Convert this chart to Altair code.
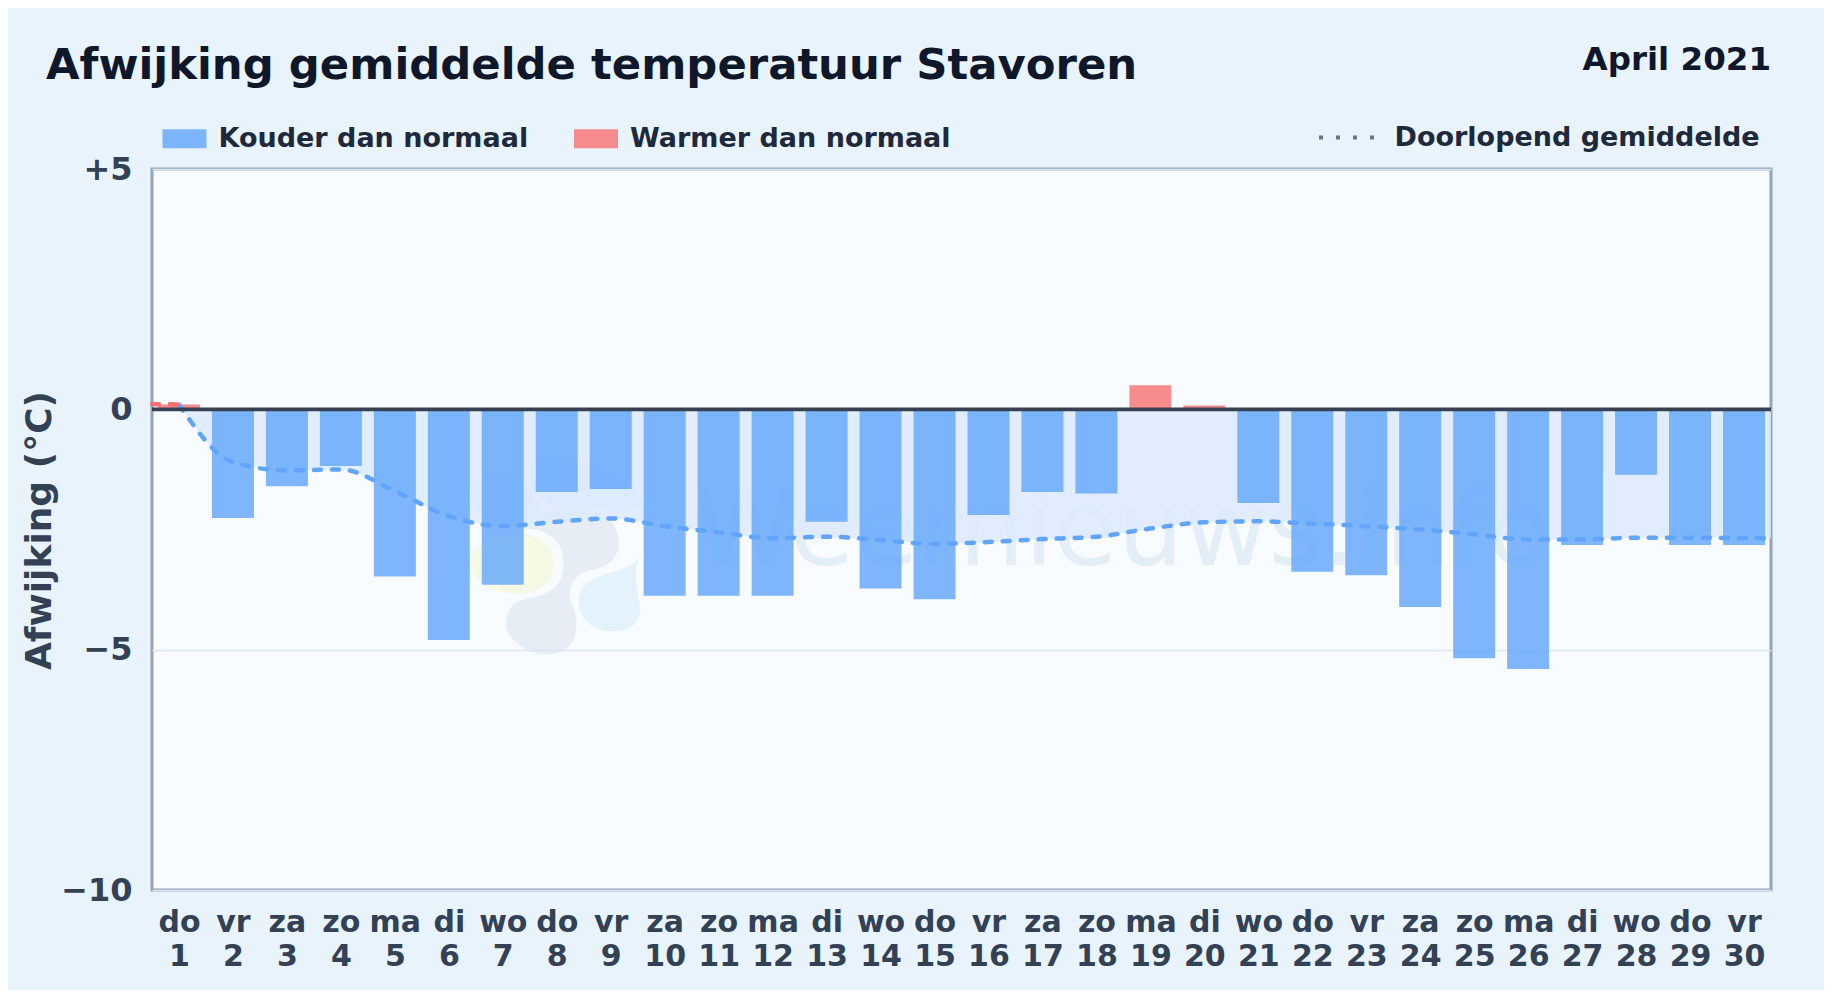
import altair as alt
import pandas as pd

days = list(range(1, 31))
weekdays = ["do","vr","za","zo","ma","di","wo","do","vr","za","zo","ma","di","wo","do","vr","za","zo","ma","di","wo","do","vr","za","zo","ma","di","wo","do","vr"]
values = [0.1,-2.26,-1.6,-1.18,-3.48,-4.8,-3.65,-1.72,-1.66,-3.88,-3.88,-3.88,-2.34,-3.73,-3.95,-2.2,-1.72,-1.75,0.5,0.08,-1.95,-3.38,-3.45,-4.11,-5.18,-5.4,-2.82,-1.36,-2.82,-2.82]
trend_x = [1,2,3,4,5,6,7,8,9,10,11,12,13,14,15,16,17,18,19,20,21,22,23,24,25,26,27,28,29,30,30.5]
trend_y = [0.1,-1.1,-1.27,-1.25,-1.7,-2.22,-2.43,-2.34,-2.27,-2.43,-2.56,-2.68,-2.65,-2.72,-2.8,-2.76,-2.7,-2.65,-2.48,-2.35,-2.33,-2.38,-2.43,-2.5,-2.6,-2.71,-2.71,-2.67,-2.67,-2.68,-2.68]
warm_x = [0.5, 1]
warm_y = [0.11, 0.1]
COLD = "Kouder dan normaal"
WARM = "Warmer dan normaal"
TREND = "Doorlopend gemiddelde"
FONT = "DejaVu Sans"

bars = pd.DataFrame({"day": days, "v": values, "kind": [WARM if v > 0 else COLD for v in values]})
trend = pd.DataFrame({"day": trend_x, "v": trend_y, "s": TREND})
warm = pd.DataFrame({"day": warm_x, "v": warm_y})
one = pd.DataFrame({"a": [0]})

x = alt.X("day:Q", scale=alt.Scale(domain=[0.5, 30.5], nice=False, zero=False, padding=0),
          axis=alt.Axis(values=days, title=None, grid=False, domain=False, ticks=False, labelPadding=17,
                        labelFontSize=30, labelFontWeight="bold", labelColor="#334155", labelFont=FONT,
                        labelLineHeight=34, labelOverlap=False, labelFlush=False,
                        labelExpr="[split('" + " ".join(weekdays) + "',' ')[datum.value-1], datum.value+'']"))
y = alt.Y("v:Q", scale=alt.Scale(domain=[-10, 5], nice=False, zero=False, padding=0),
          axis=alt.Axis(values=[5, 0, -5, -10], title="Afwijking (°C)", grid=True, gridColor="#dbe7ee", gridWidth=1.5,
                        domain=False, ticks=False, labelPadding=20, labelFontSize=32, labelFontWeight="bold",
                        labelColor="#334155", labelFont=FONT,
                        labelExpr="datum.value > 0 ? '+' + datum.value : datum.label",
                        titleFont=FONT, titleFontSize=36, titleFontWeight="bold", titleColor="#334155",
                        titleX=-113, titleY=361, titleAngle=270, titleAlign="center", titleBaseline="middle"))

def blob(path, px, py, color, opacity):
    return alt.Chart(one).mark_point(shape=path, size=45511, filled=True, color=color, opacity=opacity, strokeWidth=0).encode(
        x=alt.value(px), y=alt.value(py))

def pts(seq):
    # seq is written in crop pixels around the logo centre (320,320), one path unit = 320 crop pixels
    out = []
    for tok in seq.split():
        if tok[0].isalpha():
            out.append(tok)
        else:
            a, b = tok.split(",")
            out.append(f"{(float(a)-320)/320:.3f},{(float(b)-320)/320:.3f}")
    return " ".join(out)

GRAY = pts("M 90,130 C 150,95 230,95 265,140 C 285,190 300,205 330,210 C 400,215 450,205 490,225 C 520,240 535,275 535,310 C 535,360 490,385 450,390 C 400,400 385,440 390,480 C 415,530 420,600 370,630 C 310,665 200,620 197,550 C 197,500 230,480 260,475 C 340,460 370,430 370,370 C 370,300 320,265 260,265 C 170,265 90,250 90,130 Z")
BLUE = pts("M 415,480 C 420,420 480,405 520,395 C 560,385 580,370 600,350 C 575,380 590,450 600,500 C 600,550 570,573 510,573 C 450,570 415,530 415,480 Z")
TOP = pts("M 270,60 C 350,40 450,60 500,100 C 560,120 610,150 610,200 C 560,215 480,200 420,205 C 350,210 300,190 270,130 Z")
SUN = pts("M 340,370 C 340,430 290,460 230,460 C 170,460 90,430 90,370 C 90,310 170,280 230,280 C 290,280 340,310 340,370 Z")

logo = [blob(SUN, 395, 378, "#f4f8d8", 0.7), blob(TOP, 395, 378, "#bfe0fb", 0.45),
        blob(GRAY, 395, 378, "#d8e2ec", 0.55), blob(BLUE, 395, 378, "#d3ebfd", 0.55)]
mark = alt.Chart(pd.DataFrame({"t": ["Weernieuws.info"]})).mark_text(font=FONT, fontSize=104, color="#7aa8cc", opacity=0.15, align="center", baseline="alphabetic", clip=False).encode(text="t:N", x=alt.value(970), y=alt.value(396))

area = alt.Chart(trend).mark_area(color="#dbeafe", opacity=0.8, interpolate="monotone").encode(x=x, y=y, y2=alt.datum(0))
bar = alt.Chart(bars).mark_bar(size=42, opacity=0.8).encode(
    x=x, y=y, y2=alt.datum(0),
    color=alt.Color("kind:N", scale=alt.Scale(domain=[COLD, WARM], range=["#60a5fa", "#f87171"]),
                    legend=alt.Legend(title=None, orient="none", legendX=19, legendY=-44, direction="horizontal",
                                      columns=2, columnPadding=44.5, symbolType="M-2,-0.86H2V0.86H-2Z", symbolSize=484,
                                      symbolOpacity=0.8, labelFont=FONT, labelFontSize=27, labelFontWeight="bold",
                                      labelColor="#1e293b", labelOffset=20.5, labelLimit=500)))
line = alt.Chart(trend).mark_line(color="#60a5fa", strokeWidth=4.5, strokeDash=[7, 11], strokeCap="round", interpolate="monotone").encode(x=x, y=y)
warm_line = alt.Chart(warm).mark_line(color="#f87171", strokeWidth=4.5, strokeDash=[7, 11], strokeCap="round").encode(x=x, y=y)
key = alt.Chart(trend).mark_line(opacity=0, color="#64748b").encode(
    x=x, y=y,
    strokeDash=alt.StrokeDash("s:N", scale=alt.Scale(domain=[TREND], range=[[4, 13]]),
                              legend=alt.Legend(title=None, orient="none", legendX=1165, legendY=-61,
                                                symbolType="M-1,0H1", symbolSize=3025, symbolStrokeColor="#64748b",
                                                symbolStrokeWidth=4, symbolOpacity=1,
                                                labelFont=FONT, labelFontSize=27, labelFontWeight="bold",
                                                labelColor="#1e293b", labelOffset=18.5, labelLimit=500)))
zero = alt.Chart(pd.DataFrame({"v": [0]})).mark_rule(color="#374151", strokeWidth=3.7).encode(y=y)
month = alt.Chart(pd.DataFrame({"t": ["April 2021"]})).mark_text(font=FONT, fontSize=32.5, fontWeight="bold", color="#0f172a", align="right", baseline="alphabetic", clip=False).encode(text="t:N", x=alt.value(1619), y=alt.value(-99))

chart = alt.layer(*logo, mark, area, bar, line, warm_line, key, zero, month).resolve_legend(color="independent").properties(
    width=1619, height=721,
    padding={"left": 144, "top": 161, "right": 53, "bottom": 100},
    autosize=alt.AutoSizeParams(type="none"),
    background="#e8f3fc",
    title=alt.TitleParams("Afwijking gemiddelde temperatuur Stavoren", anchor="start", frame="group", dx=-106, dy=48.5,
                          font=FONT, fontSize=43.35, fontWeight="bold", color="#0f172a"),
).configure_view(fill="#f8fbff", stroke="#94a3b8", strokeWidth=3)

chart.save("out.html", embed_options={"renderer": "svg", "actions": False})
